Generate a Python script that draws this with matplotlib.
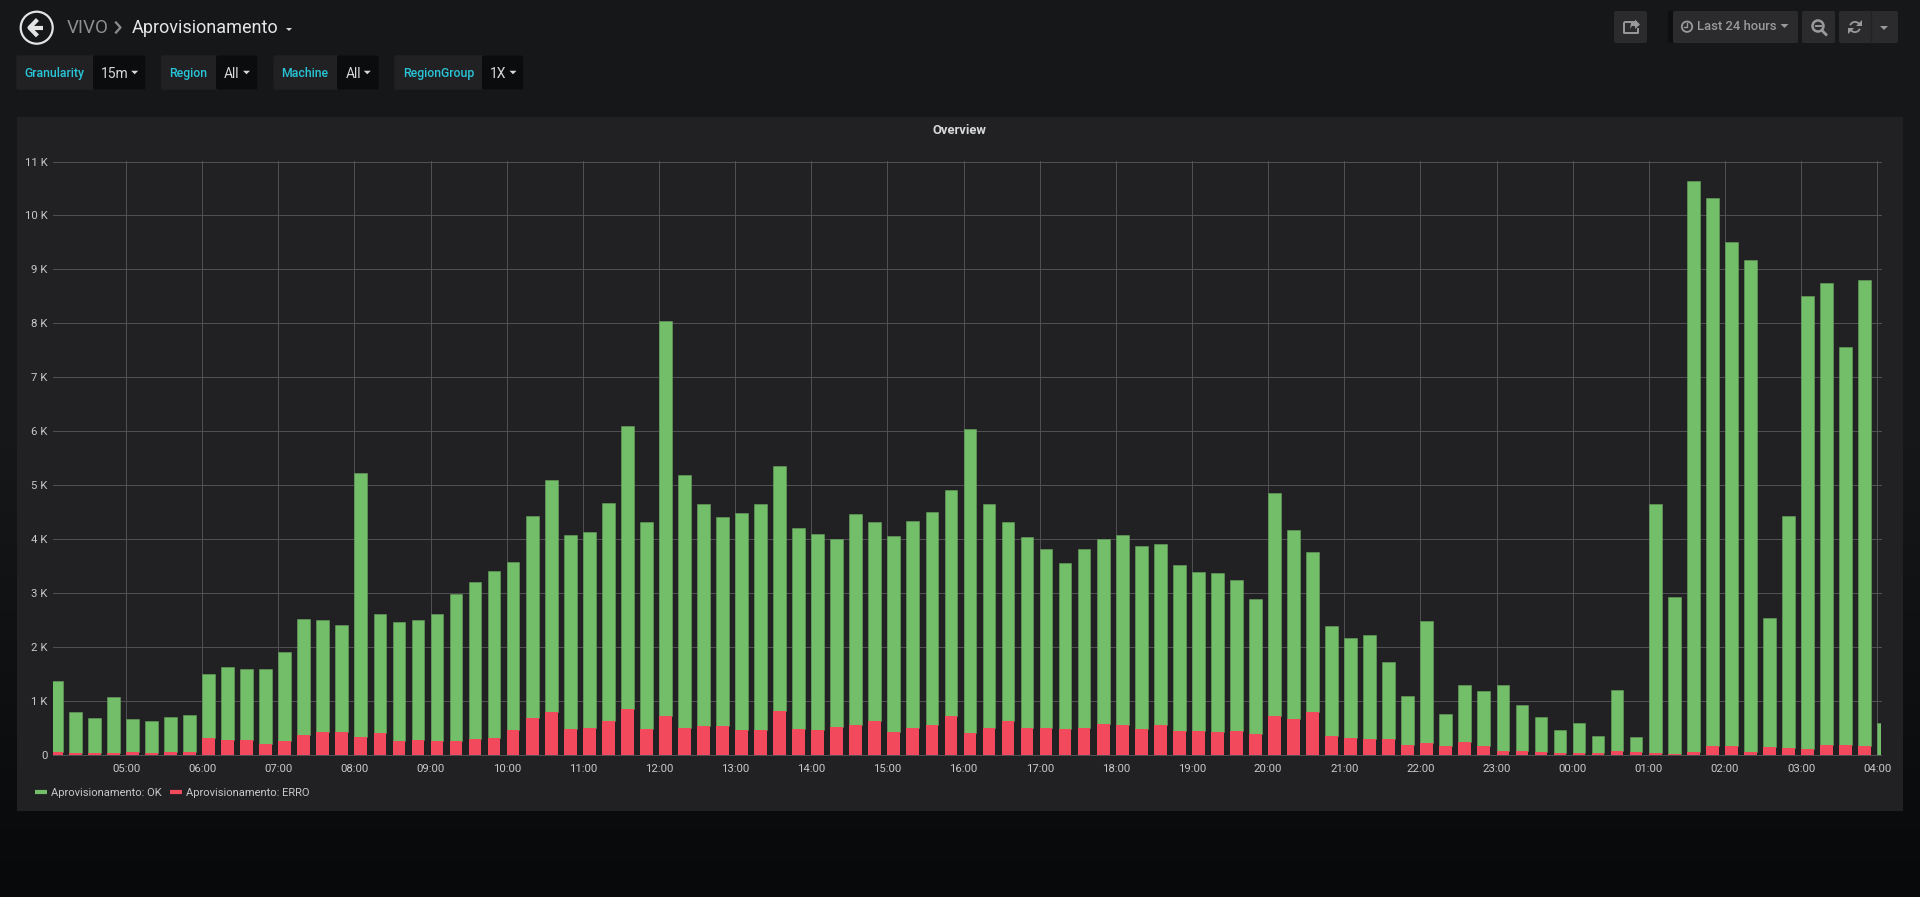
import numpy as np
import matplotlib
matplotlib.use("Agg")
import matplotlib.pyplot as plt
from matplotlib.lines import Line2D
from matplotlib.patches import Circle, FancyBboxPatch, Polygon, Rectangle, Wedge

plt.rcParams['font.family'] = ['Roboto', 'DejaVu Sans']

# values, one bar every 15 minutes, 04:00 -> 04:00
ok_values = [
    1330, 755, 645, 1035, 605, 605, 660, 700,
    1200, 1360, 1330, 1400, 1660, 2150, 2080, 1990,
    4890, 2210, 2200, 2230, 2360, 2730, 2920, 3110,
    3120, 3760, 4310, 3595, 3630, 4030, 5250, 3850,
    7330, 4680, 4120, 3890, 4020, 4190, 4560, 3720,
    3630, 3490, 3920, 3690, 3630, 3850, 3960, 4190,
    5630, 4150, 3700, 3540, 3330, 3070, 3320, 3440,
    3530, 3390, 3370, 3080, 2960, 2960, 2800, 2510,
    4150, 3510, 2960, 2040, 1860, 1940, 1440, 910,
    2250, 600, 1050, 1010, 1210, 840, 660, 425,
    565, 330, 1120, 290, 4610, 2918, 10600, 10165,
    9340, 9140, 2400, 4310, 8400, 8580, 7365, 8640,
    590,
]
erro_values = [
    40, 25, 25, 25, 45, 25, 40, 40,
    300, 260, 260, 190, 250, 370, 410, 420,
    330, 400, 250, 260, 250, 250, 280, 300,
    450, 670, 780, 475, 500, 630, 840, 470,
    710, 500, 520, 520, 460, 450, 800, 480,
    460, 510, 540, 630, 420, 490, 540, 720,
    400, 490, 620, 490, 490, 480, 500, 560,
    540, 470, 540, 440, 430, 410, 440, 380,
    710, 650, 790, 350, 300, 280, 280, 180,
    220, 160, 230, 160, 70, 70, 40, 25,
    25, 20, 70, 40, 30, 12, 40, 155,
    160, 40, 140, 120, 100, 170, 185, 160,
    0,
]
hour_labels = ['05:00', '06:00', '07:00', '08:00', '09:00', '10:00', '11:00', '12:00',
               '13:00', '14:00', '15:00', '16:00', '17:00', '18:00', '19:00', '20:00',
               '21:00', '22:00', '23:00', '00:00', '01:00', '02:00', '03:00', '04:00']
y_labels = ['0', '1 K', '2 K', '3 K', '4 K', '5 K', '6 K', '7 K', '8 K', '9 K', '10 K', '11 K']
series_names = ['Aprovisionamento: OK', 'Aprovisionamento: ERRO']

GREEN = '#73BF69'
RED = '#F2495C'
W, H = 1920, 897

fig = plt.figure(figsize=(W / 100, H / 100), dpi=100, facecolor='#161719')

# page background + everything that is not the chart, in pixel coordinates
ui = fig.add_axes([0, 0, 1, 1], zorder=0)
ui.set_xlim(0, W)
ui.set_ylim(H, 0)
ui.axis('off')
gradient = np.linspace(0, 1, 256).reshape(-1, 1)
cmap = matplotlib.colors.LinearSegmentedColormap.from_list('page', ['#161719', '#161719', '#08090b'])
ui.imshow(gradient, extent=(0, W, H, 0), aspect='auto', cmap=cmap, zorder=0)


def box(x0, y0, x1, y1, color, z=1, r=2):
    ui.add_patch(FancyBboxPatch((x0 + r, y0 + r), x1 - x0 - 2 * r, y1 - y0 - 2 * r,
                                boxstyle=f'round,pad={r},rounding_size={r}',
                                fc=color, ec='none', zorder=z))


def caret(x, y, size=4, color='#d8d9da'):
    ui.add_patch(Polygon([(x - size, y - size / 2), (x + size, y - size / 2), (x, y + size / 2)],
                         fc=color, ec='none', zorder=4))


# panel
ui.add_patch(Rectangle((17, 117.5), 1886, 693.5, fc='#212124', ec='none', zorder=1))

# header
ui.add_patch(Circle((36.7, 27.7), 16, fc='none', ec='#e3e3e3', lw=1.6, zorder=3))
ui.plot([29, 43], [27.7, 27.7], color='#e3e3e3', lw=3, zorder=3, solid_capstyle='butt')
ui.plot([36, 29.5, 36], [21, 27.7, 34.4], color='#e3e3e3', lw=3, zorder=3)
ui.text(67, 28, 'VIVO', color='#8e8e8e', fontsize=13.5, va='center', ha='left', zorder=3)
ui.plot([116, 120.5, 116], [22.5, 27.5, 32.5], color='#8e8e8e', lw=1.6, zorder=3)
ui.text(132, 28, 'Aprovisionamento', color='#e6e6e6', fontsize=13, va='center', ha='left', zorder=3)
caret(289, 29.5, 3, '#d8d9da')

# template variables
pills = [
    (16.3, 93, 145.7, 'Granularity', 24.5, '15m', 101, 134.7),
    (160.8, 216, 257.6, 'Region', 169.4, 'All', 224, 246.5),
    (273.5, 337, 378.8, 'Machine', 281.5, 'All', 345.3, 367.3),
    (394.3, 482, 523.3, 'RegionGroup', 403, '1X', 490, 513),
]
for x0, xs, x1, label, lx, val, vx, cx in pills:
    box(x0, 55.3, x1, 89.7, '#212124', z=2)
    box(xs, 55.3, x1, 89.7, '#0b0c0e', z=3)
    ui.text(lx, 77, label, color='#29c5d8', fontsize=8.8, fontweight='medium', va='baseline', zorder=4)
    ui.text(vx, 78.5, val, color='#d8d9da', fontsize=10, va='baseline', zorder=4)
    caret(cx, 72.5, 3.5)

# top right buttons
BTN = '#2b2b2e'
GREY = '#9a9a9c'
box(1668, 11, 1680, 43, '#0e0f11', z=1)
box(1614, 11, 1647, 43, BTN, z=2)
box(1673, 11, 1798, 43, BTN, z=2)
box(1802, 11, 1835, 43, BTN, z=2)
box(1839, 11, 1898, 43, BTN, z=2)
ui.plot([1871, 1871], [11, 43], color='#222225', lw=1, zorder=3)
# share
ui.plot([1636, 1625, 1624, 1624, 1638, 1638], [22, 22, 23, 33, 33, 29], color=GREY, lw=1.4, zorder=4)
ui.add_patch(Polygon([(1630, 29), (1631, 23), (1635, 23), (1635, 19.5), (1640, 24.5), (1635, 29), (1635, 26),
                      (1632, 26)], fc=GREY, ec='none', zorder=4))
# clock
ui.add_patch(Circle((1687, 26.7), 5.2, fc='none', ec=GREY, lw=1.3, zorder=4))
ui.plot([1687, 1687, 1684], [23, 27.5, 27.5], color=GREY, lw=1, zorder=4)
ui.text(1697, 27, 'Last 24 hours', color=GREY, fontsize=9.4, fontweight='medium', va='center', zorder=4)
caret(1784.5, 26, 4, GREY)
# zoom out
ui.add_patch(Circle((1818, 26), 5.5, fc='none', ec=GREY, lw=1.8, zorder=4))
ui.plot([1815.5, 1820.5], [26, 26], color=GREY, lw=1.4, zorder=4)
ui.plot([1822, 1826], [30.5, 34.5], color=GREY, lw=2, zorder=4)
# refresh
ui.add_patch(Wedge((1855, 27), 6, 200, 340, width=1.8, fc=GREY, ec='none', zorder=4))
ui.add_patch(Wedge((1855, 27), 6, 20, 160, width=1.8, fc=GREY, ec='none', zorder=4))
ui.add_patch(Polygon([(1862, 20), (1862, 26), (1856, 26)], fc=GREY, ec='none', zorder=4))
ui.add_patch(Polygon([(1848, 34), (1848, 28), (1854, 28)], fc=GREY, ec='none', zorder=4))
caret(1884, 28, 4, GREY)

ui.text(959, 130.5, 'Overview', color='#d8d9da', fontsize=9.4, fontweight='bold', ha='center', va='center', zorder=4)

# chart
left, right, top, bottom = 53, 1881, 161.5, 754.5
ax = fig.add_axes([left / W, 1 - bottom / H, (right - left) / W, (bottom - top) / H], zorder=2)
ax.patch.set_alpha(0)
for s in ax.spines.values():
    s.set_visible(False)

x = np.arange(len(ok_values)) * 0.25
ok = np.array(ok_values)
erro = np.array(erro_values)
bar_w = 0.167
# green first and red over it, or the thin red bars vanish under the green edge
ax.bar(x, ok, width=bar_w, bottom=erro, align='edge', color=GREEN, edgecolor='#66a25f', linewidth=0.4, zorder=3)
ax.bar(x, erro, width=bar_w, align='edge', color=RED, zorder=4)

ax.set_xlim(0.04, 24.05)
ax.set_ylim(0, 11000)
ax.set_xticks(np.arange(1, 25))
ax.set_xticklabels(hour_labels)
ax.set_yticks(np.arange(0, 12000, 1000))
ax.set_yticklabels(y_labels)
ax.tick_params(length=0, colors='#c8c9ca', labelsize=8.2)
ax.tick_params(axis='x', pad=7)
ax.tick_params(axis='y', pad=4)
ax.grid(True, color='#505052', lw=0.75, zorder=0)
ax.set_axisbelow(True)
for line in ax.get_xgridlines() + ax.get_ygridlines():
    line.set_clip_on(False)

handles = [Line2D([], [], color=GREEN, lw=3, solid_capstyle='butt'),
           Line2D([], [], color=RED, lw=3, solid_capstyle='butt')]
leg = ui.legend(handles, series_names, loc='center left', bbox_to_anchor=(35, 793),
                bbox_transform=ui.transData, frameon=False, ncol=2, fontsize=8.0,
                handlelength=1.08, handletextpad=0.36, columnspacing=0.75, borderpad=0, borderaxespad=0)
for t in leg.get_texts():
    t.set_color('#c8c9ca')

fig.savefig('out.png', dpi=100, facecolor=fig.get_facecolor())
